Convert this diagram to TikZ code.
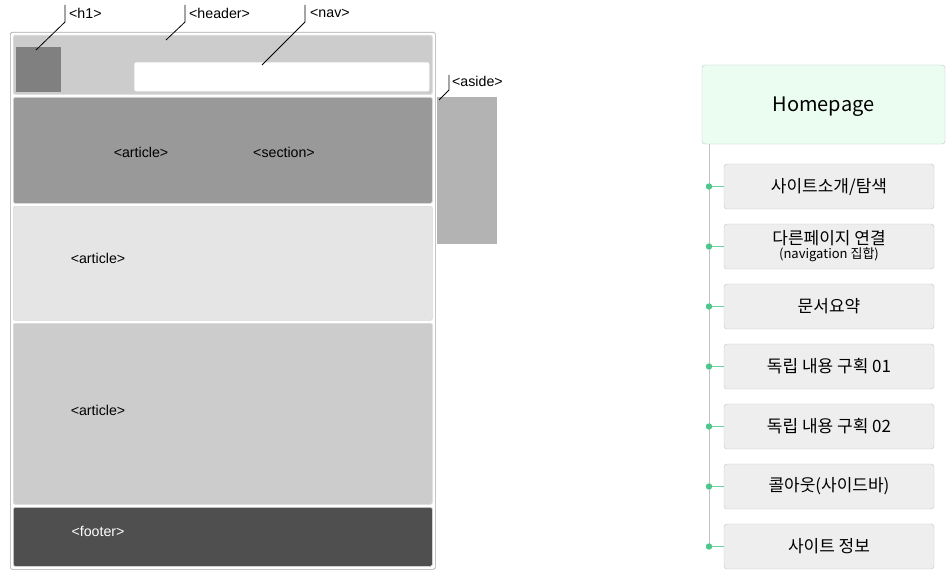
\documentclass[tikz,border=0pt]{standalone}
\usepackage{fontspec}
\setmainfont{Liberation Sans}
\newfontfamily\krfont{Noto Sans CJK KR}
\usetikzlibrary{positioning}

\definecolor{frameline}{HTML}{A6A6A6}
\definecolor{headgray}{HTML}{CCCCCC}
\definecolor{logogray}{HTML}{808080}
\definecolor{secgray}{HTML}{999999}
\definecolor{artlight}{HTML}{E5E5E5}
\definecolor{asidegray}{HTML}{B3B3B3}
\definecolor{footgray}{HTML}{4F4F4F}
\definecolor{mintfill}{HTML}{EBFDF0}
\definecolor{menufill}{HTML}{EEEEEE}
\definecolor{menuline}{HTML}{C4C4C4}
\definecolor{dotgreen}{HTML}{4CC68A}
\definecolor{linkgreen}{HTML}{6FD09B}

\begin{document}
\begin{tikzpicture}[
                x=1pt, y=-1pt,
                block/.style={
                    rectangle,
                    rounded corners=1.5pt,
                    anchor=north west,
                    inner sep=0pt,
                    draw=white!85!black,
                    line width=0.6pt
                },
                tag/.style={
                    font=\fontsize{14.2}{16}\selectfont,
                    inner sep=0pt
                },
                callout/.style={
                    draw=black,
                    line width=0.8pt
                },
                menubox/.style={
                    draw=menuline,
                    fill=menufill,
                    rectangle,
                    rounded corners=3pt,
                    minimum width=210pt,
                    minimum height=45pt,
                    align=center,
                    font=\krfont\fontsize{17}{19}\selectfont
                },
                rootbox/.style={
                    menubox,
                    fill=mintfill,
                    minimum width=243pt,
                    minimum height=79pt,
                    font=\krfont\fontsize{20}{22}\selectfont
                },
                spine/.style={
                    draw=menuline,
                    line width=0.8pt
                },
                link/.style={
                    draw=linkgreen,
                    line width=1.4pt
                }
            ]
    \useasboundingbox (0,0) rectangle (951,578);

    % page wireframe
    \node[block, draw=frameline, fill=white, minimum width=425pt, minimum height=537pt] (page) at (10,32) {};
    \node[block, fill=headgray, minimum width=419pt, minimum height=59pt] (header) at (13,35) {};
    \node[block, rounded corners=0pt, draw=none, fill=logogray, minimum width=45pt, minimum height=45pt] (h1) at (16,47) {};
    \node[block, rounded corners=2pt, draw=none, fill=white, minimum width=295pt, minimum height=29pt] (nav) at (134,62) {};
    \node[block, fill=secgray, minimum width=419pt, minimum height=106pt] (top) at (13,97) {};
    \node[block, fill=artlight, minimum width=419pt, minimum height=114pt] (mid) at (13,206) {};
    \node[block, fill=headgray, minimum width=419pt, minimum height=181pt] (main) at (13,323) {};
    \node[block, fill=footgray, minimum width=419pt, minimum height=59pt] (footer) at (13,507) {};
    \node[block, rounded corners=0pt, draw=none, fill=asidegray, minimum width=60pt, minimum height=147pt] (aside) at (437,97) {};

    \node[tag] (toparticle) at (141,152) {<article>};
    \node[tag] (topsection) at (284,152) {<section>};
    \node[tag] (midarticle) at (98,258) {<article>};
    \node[tag] (mainarticle) at (98,410) {<article>};
    \node[tag, text=white] (footertag) at (98,531) {<footer>};

    % callouts
    \coordinate (h1top) at (65,5);
    \coordinate (h1bend) at (65,22);
    \coordinate (h1end) at (36,50);
    \node[tag, anchor=west] (h1lbl) at (69,13) {<h1>};
    \draw[callout] (h1top) -- (h1bend) -- (h1end);

    \coordinate (headtop) at (185,5);
    \coordinate (headbend) at (185,22);
    \coordinate (headend) at (166,40);
    \node[tag, anchor=west] (headlbl) at (189,13) {<header>};
    \draw[callout] (headtop) -- (headbend) -- (headend);

    \coordinate (navtop) at (305,5);
    \coordinate (navbend) at (305,22);
    \coordinate (navend) at (262,65);
    \node[tag, anchor=west] (navlbl) at (310,13) {<nav>};
    \draw[callout] (navtop) -- (navbend) -- (navend);

    \coordinate (asidetop) at (449,75);
    \coordinate (asidebend) at (449,90);
    \coordinate (asideend) at (439,100);
    \node[tag, anchor=west] (asidelbl) at (452,81) {<aside>};
    \draw[callout] (asidetop) -- (asidebend) -- (asideend);

    % site map
    \node[rootbox] (home) at (823.5,104.5) {\raisebox{-7pt}[0pt][0pt]{Homepage}};
    \coordinate (spinetop) at (709,144);
    \coordinate (spinebot) at (709,546);
    \draw[spine] (spinetop) -- (spinebot);

    \foreach \i/\txt in {1/{사이트소개/탐색},
                         2/{다른페이지 연결\\[-5pt]{\fontsize{13}{14}\selectfont (navigation 집합)}},
                         3/{문서요약},
                         4/{독립 내용 구획 01},
                         5/{독립 내용 구획 02},
                         6/{콜아웃(사이드바)},
                         7/{사이트 정보}} {
        \node[menubox] (menu\i) at (829,{186.5+60*(\i-1)}) {\txt};
        \coordinate (dot\i) at (709,{186.5+60*(\i-1)});
        \draw[link] (dot\i) -- (menu\i.west);
        \fill[dotgreen] (dot\i) circle (3.2pt);
    }
\end{tikzpicture}
\end{document}
